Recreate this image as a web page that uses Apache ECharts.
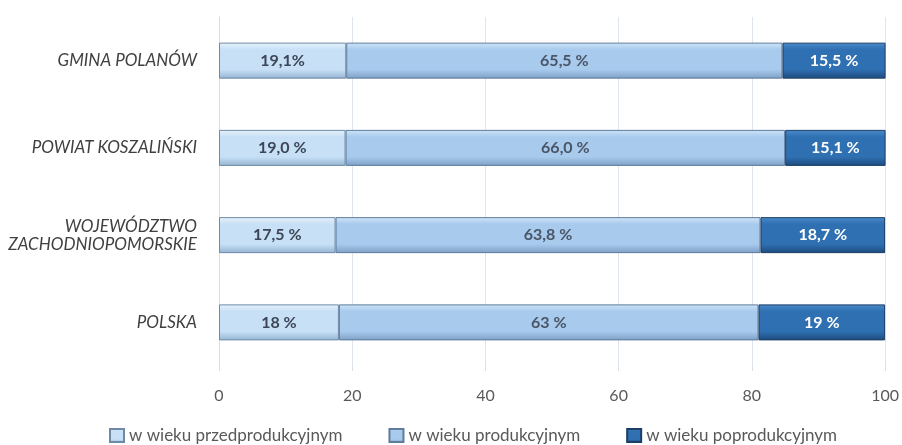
<!DOCTYPE html>
<html><head><meta charset="utf-8">
<script src="https://cdn.jsdelivr.net/npm/echarts@6/dist/echarts.min.js"></script>
<style>html,body{margin:0;padding:0;background:#fff}#c{width:902px;height:445px}</style>
</head><body><div id="c"></div>
<script>
const categories = ['GMINA POLANÓW', 'POWIAT KOSZALIŃSKI', 'WOJEWÓDZTWO\nZACHODNIOPOMORSKIE', 'POLSKA'];
const seriesNames = ['w wieku przedprodukcyjnym', 'w wieku produkcyjnym', 'w wieku poprodukcyjnym'];
const przed = [19.1, 19.0, 17.5, 18];
const prod = [65.5, 66.0, 63.8, 63];
const popr = [15.5, 15.1, 18.7, 19];
const przedLabels = ['19,1%', '19,0 %', '17,5 %', '18 %'];
const prodLabels = ['65,5 %', '66,0 %', '63,8 %', '63 %'];
const poprLabels = ['15,5 %', '15,1 %', '18,7 %', '19 %'];
const xTicks = [0, 20, 40, 60, 80, 100];

const FONT = 'Lato, "Open Sans", Arial, sans-serif';
function grad(a, b, c) {
  return new echarts.graphic.LinearGradient(0, 0, 0, 1, [
    {offset: 0, color: a}, {offset: 0.2, color: b}, {offset: 0.75, color: b}, {offset: 1, color: c}
  ]);
}
const styles = [
  {fill: grad('#e6f2fc', '#c7e0f6', '#94b4d2'), border: '#6f8aa6', text: '#3c4656'},
  {fill: grad('#cfe5f8', '#a7caed', '#7d9fc4'), border: '#5f7c9c', text: '#4a5566'},
  {fill: grad('#4a8acb', '#2f70b2', '#1d4a7c'), border: '#1d3f66', text: '#ffffff'}
];
const vals = [przed, prod, popr];
const labs = [przedLabels, prodLabels, poprLabels];

const chart = echarts.init(document.getElementById('c'), null, {renderer: 'canvas'});
chart.setOption({
  animation: false,
  textStyle: {fontFamily: FONT},
  grid: {left: 219, right: 16, top: 17, bottom: 79, containLabel: false},
  legend: {
    top: 427, left: 109, padding: 0, itemWidth: 14, itemHeight: 13, itemGap: 46, icon: 'rect',
    textStyle: {fontFamily: FONT, fontSize: 17, color: '#595959'},
    data: seriesNames
  },
  xAxis: {
    type: 'value', min: 0, max: 100, interval: 20,
    axisLine: {show: false},
    axisTick: {show: true, length: 5, lineStyle: {color: '#d9dfe6'}},
    axisLabel: {margin: 22, fontSize: 16, color: '#595959', fontFamily: FONT,
      formatter: v => xTicks.includes(v) ? String(v) : ''},
    splitLine: {show: true, lineStyle: {color: '#dfe5ec'}}
  },
  yAxis: {
    type: 'category', inverse: true, data: categories,
    axisLine: {show: true, lineStyle: {color: '#d5dde6'}},
    axisTick: {show: false},
    axisLabel: {margin: 22, fontSize: 17, fontStyle: 'italic', color: '#404040', fontFamily: FONT, lineHeight: 18, align: 'right'}
  },
  series: seriesNames.map((name, i) => ({
    name, type: 'bar', stack: 'total', barWidth: 36,
    data: vals[i],
    itemStyle: {color: styles[i].fill, borderColor: styles[i].border, borderWidth: 1},
    label: {
      show: true, position: 'inside', fontSize: 16, fontWeight: 'bold', color: styles[i].text, fontFamily: FONT,
      formatter: p => labs[i][p.dataIndex]
    }
  }))
});
</script></body></html>
